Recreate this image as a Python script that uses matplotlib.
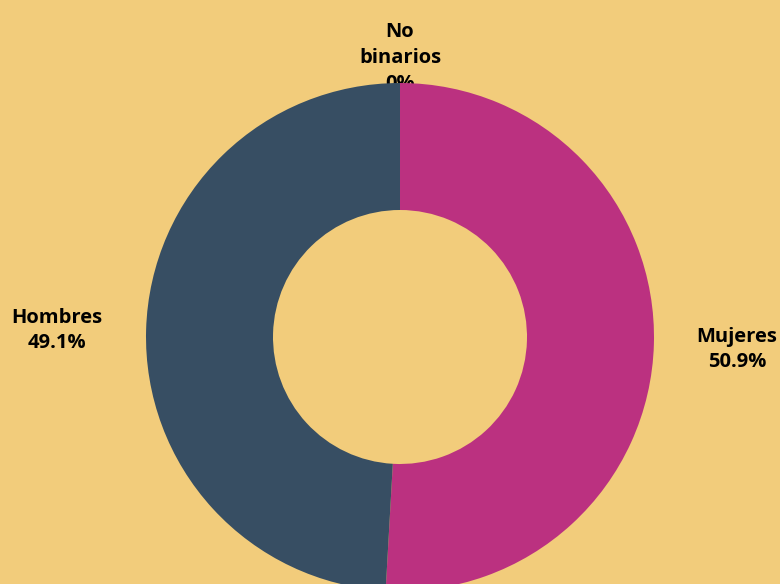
import numpy as np
import matplotlib.pyplot as plt

categories = ["Mujeres", "Hombres", "No\nbinarios"]
values = [50.9, 49.1, 0.0]
pct_labels = ["50.9%", "49.1%", "0%"]
colors = ["#BB3180", "#374E63", "#F7A35C"]
bg = "#F2CC7B"

plt.rcParams['font.family'] = ['Open Sans', 'DejaVu Sans']

fig = plt.figure(figsize=(7.8, 5.84), dpi=100, facecolor=bg)
ax = fig.add_axes([0, 0, 1, 1])
ax.set_facecolor(bg)

cx, cy = 400, 584 - 337
R = 254
wedges, _ = ax.pie(values, colors=colors, startangle=90, counterclock=False,
                   radius=R, center=(cx, cy), frame=True,
                   wedgeprops=dict(width=R / 2, edgecolor='none', linewidth=0, zorder=3))
ax.set_xlim(0, 780)
ax.set_ylim(0, 584)
ax.set_aspect('equal')
ax.axis('off')

total = sum(values)
start = 90.0
for cat, v, p in zip(categories, values, pct_labels):
    ang = start - v / total * 360 / 2
    start -= v / total * 360
    a = np.deg2rad(ang)
    if abs(np.cos(a)) > 0.5:
        r = R + 86
        x = cx + r * np.cos(a) - 3
        y = cy + r * np.sin(a) - 3
        ax.text(x, y, f"{cat}\n{p}", ha='center', va='center', fontsize=14.5,
                fontweight='bold', color='black', linespacing=1.38, zorder=5)
    else:
        r = R + 28
        x = cx + r * np.cos(a)
        y = cy + r * np.sin(a) - 3
        ax.text(x, y, f"{cat}\n{p}", ha='center', va='center', fontsize=14.5,
                fontweight='bold', color='black', linespacing=1.38, zorder=1)

fig.savefig("out.png", dpi=100, facecolor=bg)
